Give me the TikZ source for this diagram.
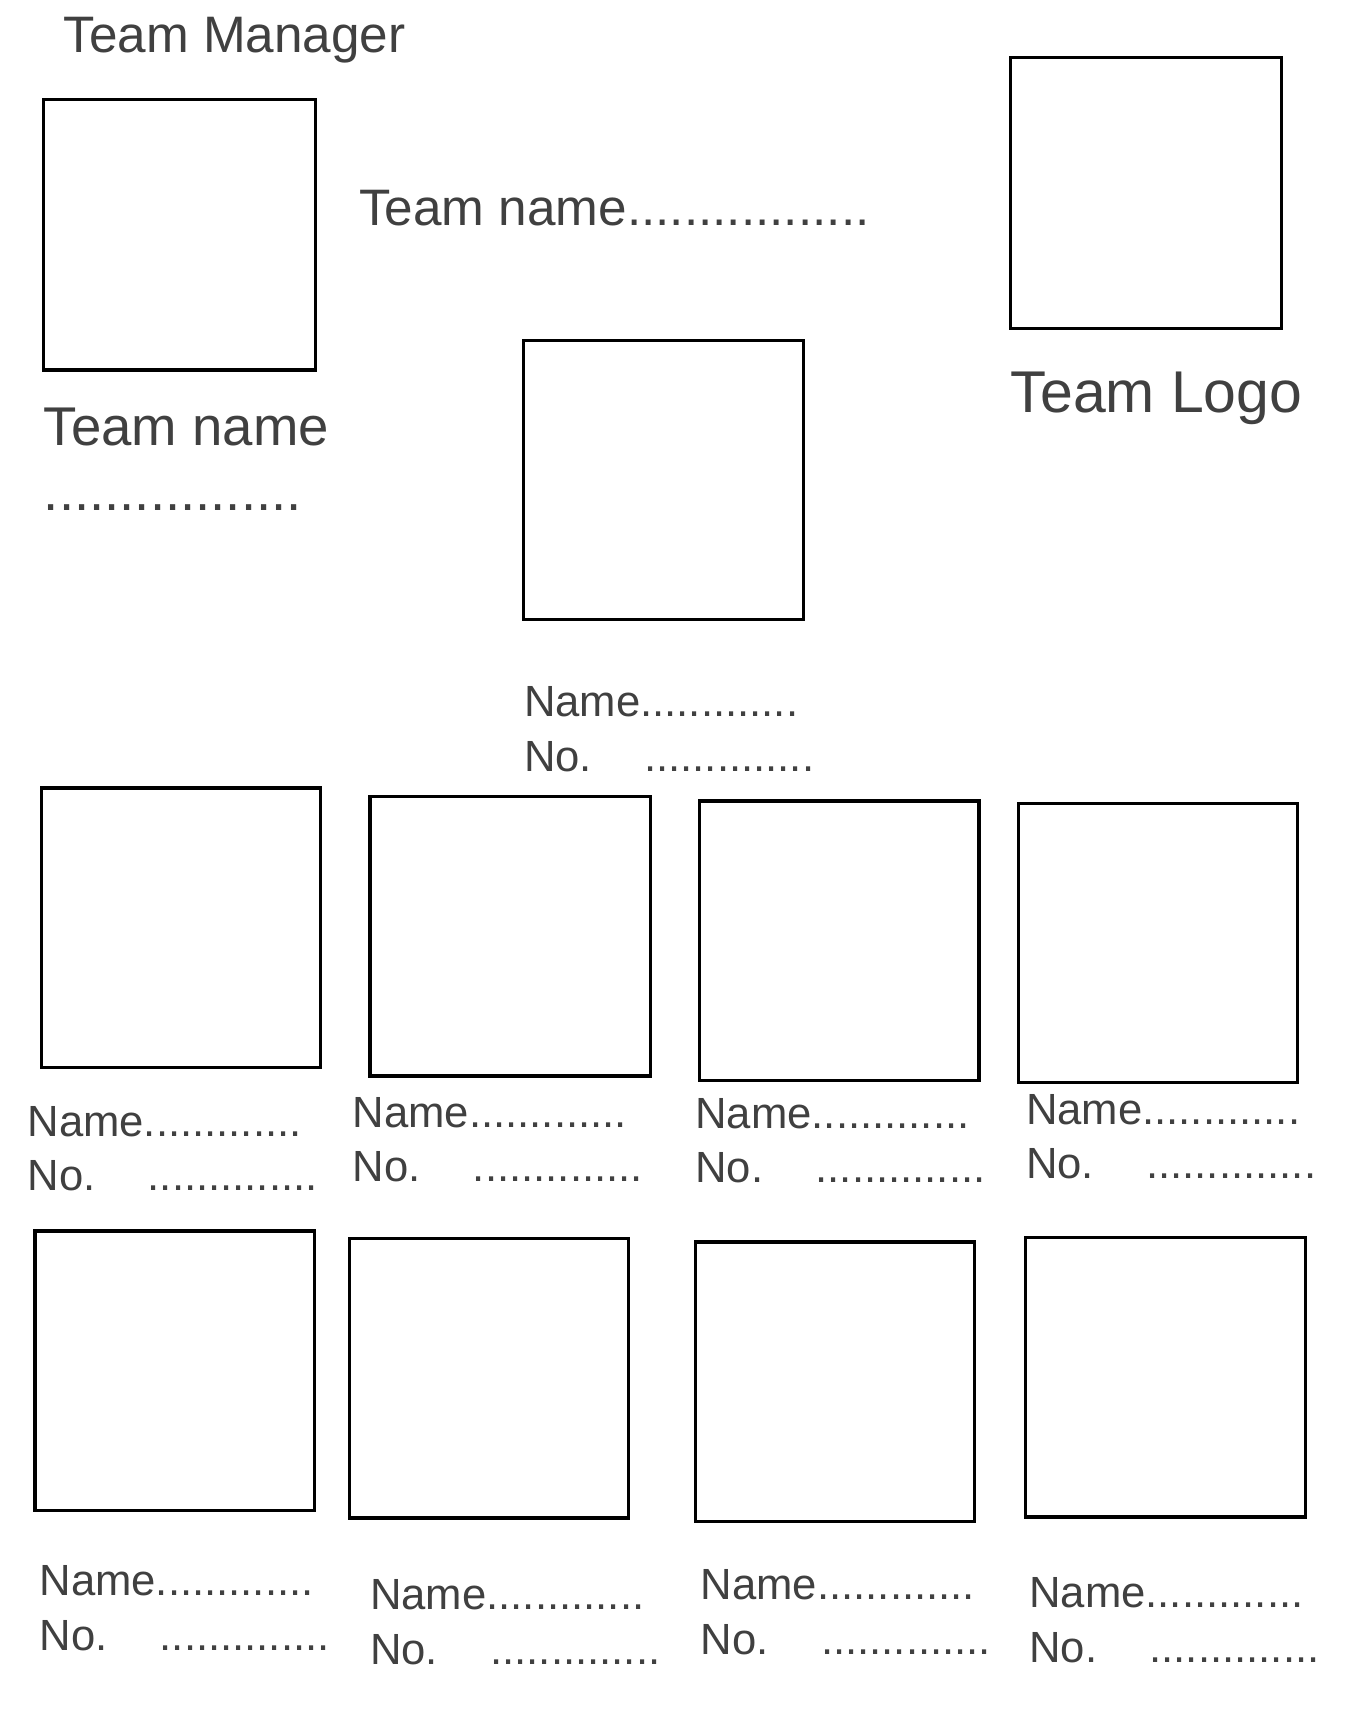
\documentclass[tikz,border=0pt]{standalone}
\usepackage{fontspec}
\setmainfont{Liberation Sans}
\begin{document}
\begin{tikzpicture}[x=1pt,y=-1pt,
  pbox/.style={draw,line width=3pt},
  lbl/.style={anchor=base west,inner sep=0pt,text=black!75,font=\fontsize{40}{42}\selectfont}]
\useasboundingbox (0,0) rectangle (1247,1567);
\draw[pbox] (40,91) rectangle (289,339);
\draw[pbox] (926,53) rectangle (1174,301);
\draw[pbox] (480,312) rectangle (736,568);
\node[lbl,font=\fontsize{47}{49}\selectfont] (tm) at (58,48) {Team Manager};
\node[lbl,font=\fontsize{47}{49}\selectfont] (tn1) at (329,207) {Team name.................};
\node[lbl,font=\fontsize{50}{52}\selectfont] (tn2) at (40,408) {Team name};
\node[lbl,font=\fontsize{50}{52}\selectfont] (tn2d) at (40,468) {.................};
\node[lbl,font=\fontsize{54}{56}\selectfont] (tl) at (926,378) {Team Logo};
\foreach \x/\y/\n in {480/657/c, 25/1041/a1, 323/1033/a2, 637/1034/a3, 940/1030/a4,
  36/1462/b1, 339/1475/b2, 642/1466/b3, 943/1473/b4}{
  \node[lbl] (n\n) at (\x,\y) {Name.............};
  \node[lbl] (o\n) at (\x,\y+50) {No.\hspace{1.2em}..............};
}
\foreach \a/\b/\c/\d in {38/722/294/978, 339/730/596/986, 641/734/897/990, 933/736/1189/992,
  32/1128/288/1384, 320/1135/576/1391, 637/1138/893/1394, 940/1134/1196/1390}{
  \draw[pbox] (\a,\b) rectangle (\c,\d);
}
\end{tikzpicture}
\end{document}
